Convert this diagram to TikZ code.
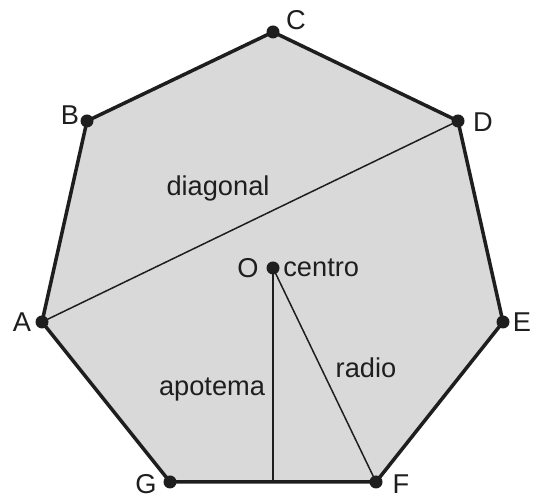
\documentclass[tikz,border=0pt]{standalone}
\usepackage{fontspec}
\setmainfont{Liberation Sans}
\usepackage{xcolor}
\usepackage{tikz}
\usetikzlibrary{positioning}
\definecolor{FaceGray}{HTML}{D9D9D9}
\definecolor{EdgeDark}{HTML}{1E1E1E}

\begin{document}
\begin{tikzpicture}[
    font=\fontsize{15.5}{18}\selectfont,
    vertex/.style={circle, fill=EdgeDark, inner sep=0pt, minimum size=0.26cm},
    lbl/.style={inner sep=0pt, text=EdgeDark},
    edge/.style={draw=EdgeDark, line width=2pt, line join=round},
    segment/.style={draw=EdgeDark, line width=0.85pt}
]
\useasboundingbox (0,0) rectangle (10.88,9.94);

% vertices of the heptagon
\coordinate (c) at (5.46,9.30);
\coordinate (d) at (9.16,7.52);
\coordinate (e) at (10.06,3.50);
\coordinate (f) at (7.52,0.30);
\coordinate (g) at (3.40,0.30);
\coordinate (a) at (0.84,3.50);
\coordinate (b) at (1.74,7.52);
\coordinate (o) at (5.46,4.58);
\coordinate (h) at (5.46,0.30);

% face
\fill[FaceGray] (a) -- (b) -- (c) -- (d) -- (e) -- (f) -- (g) -- cycle;

% inner segments
\draw[segment] (a) -- (d);
\draw[segment] (o) -- (h);
\draw[segment] (o) -- (f);

% outline
\draw[edge] (a) -- (b) -- (c) -- (d) -- (e) -- (f) -- (g) -- cycle;

% dots
\foreach \v in {a,b,c,d,e,f,g,o}
  \node[vertex] (dot\v) at (\v) {};

% vertex labels
\node[lbl] (labC) at (5.92,9.54) {C};
\node[lbl] (labB) at (1.40,7.64) {B};
\node[lbl] (labD) at (9.66,7.50) {D};
\node[lbl] (labE) at (10.44,3.50) {E};
\node[lbl] (labF) at (8.02,0.25) {F};
\node[lbl] (labG) at (2.92,0.25) {G};
\node[lbl] (labA) at (0.44,3.50) {A};
\node[lbl] (labO) at (4.96,4.58) {O};
\node[lbl, anchor=west] (centro) at (5.66,4.58) {centro};

% segment labels
\node[lbl] (diagonal) at (4.36,6.18) {diagonal};
\node[lbl] (apotema) at (4.24,2.14) {apotema};
\node[lbl] (radio) at (7.32,2.58) {radio};

\end{tikzpicture}
\end{document}
